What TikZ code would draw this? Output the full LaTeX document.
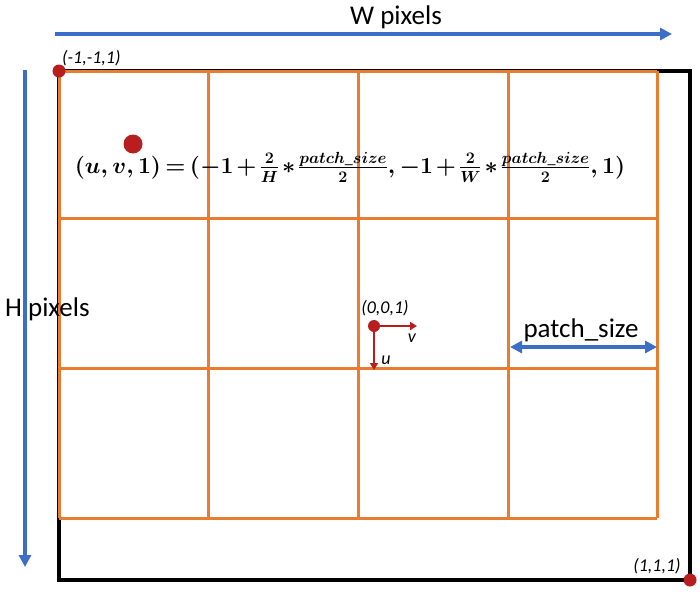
\RequirePackage{fix-cm}
\documentclass[tikz,border=0pt]{standalone}
\usepackage{amsmath,bm}
\usepackage{fontspec}
\setmainfont{Carlito}
\usetikzlibrary{arrows.meta}
\definecolor{gridorange}{RGB}{232,125,49}
\definecolor{dotred}{RGB}{185,30,30}
\definecolor{arrblue}{RGB}{60,110,200}
\tikzset{
  gridline/.style={draw=gridorange,line width=3pt},
  border/.style={draw=black,line width=4pt},
  bluearrow/.style={draw=arrblue,line width=3.5pt,-{Triangle[length=12pt,width=12pt]}},
  bluedouble/.style={draw=arrblue,line width=3.5pt,{Triangle[length=12pt,width=12pt]}-{Triangle[length=12pt,width=12pt]}},
  redarrow/.style={draw=dotred,line width=2pt,-{Triangle[length=7pt,width=8pt]}},
  dot/.style={circle,fill=dotred,inner sep=0pt,minimum size=#1},
  lbl/.style={font=\fontsize{27}{30}\selectfont,inner sep=0pt},
  small/.style={font=\fontsize{18}{20}\itshape,inner sep=0pt}
}
\begin{document}
\begin{tikzpicture}[x=1pt,y=-1pt]
\useasboundingbox (0,0) rectangle (700,594);
% black border
\draw[border] (59,71) rectangle (690,580);
% orange grid
\foreach \x in {59,208,358,508,657} \draw[gridline] (\x,71) -- (\x,518);
\foreach \y in {71,218,368,518} \draw[gridline] (59,\y) -- (657,\y);
% axis arrows
\coordinate (wa) at (55,34); \coordinate (wb) at (672,34);
\draw[bluearrow] (wa) -- (wb);
\node[lbl] (wl) at (396,17) {W pixels};
\coordinate (ha) at (25,70); \coordinate (hb) at (25,567);
\draw[bluearrow] (ha) -- (hb);
\node[lbl,anchor=west] (hl) at (5,309) {H pixels};
% corner dots
\node[dot=13pt] (tl) at (59,71) {};
\node[dot=13pt] (br) at (690,580) {};
\node[small,anchor=south west] (tll) at (62,66) {(-1,-1,1)};
\node[small] (brl) at (657,566) {(1,1,1)};
% center
\node[dot=12pt] (c) at (374,326) {};
\coordinate (cv) at (417,326);
\coordinate (cu) at (374,370);
\draw[redarrow] (c.center) -- (cv);
\draw[redarrow] (c.center) -- (cu);
\node[small] (cl) at (385,308) {(0,0,1)};
\node[small] (vl) at (412,338) {v};
\node[small] (ul) at (386,360) {u};
% patch size
\coordinate (pa) at (510,347); \coordinate (pb) at (657,347);
\draw[bluedouble] (pa) -- (pb);
\node[lbl] (pl) at (581,330) {patch\_size};
% big dot and formula
\node[dot=19pt] (bd) at (133,144) {};
\node[inner sep=0pt,font=\fontsize{23}{27}\selectfont\boldmath] (f) at (350,167)
 {\medmuskip=2mu\thickmuskip=3mu$(u,v,1)=(-1+\frac{2}{H}*\frac{patch\_size}{2},-1+\frac{2}{W}*\frac{patch\_size}{2},\mathbf{1)}$};
\end{tikzpicture}
\end{document}
